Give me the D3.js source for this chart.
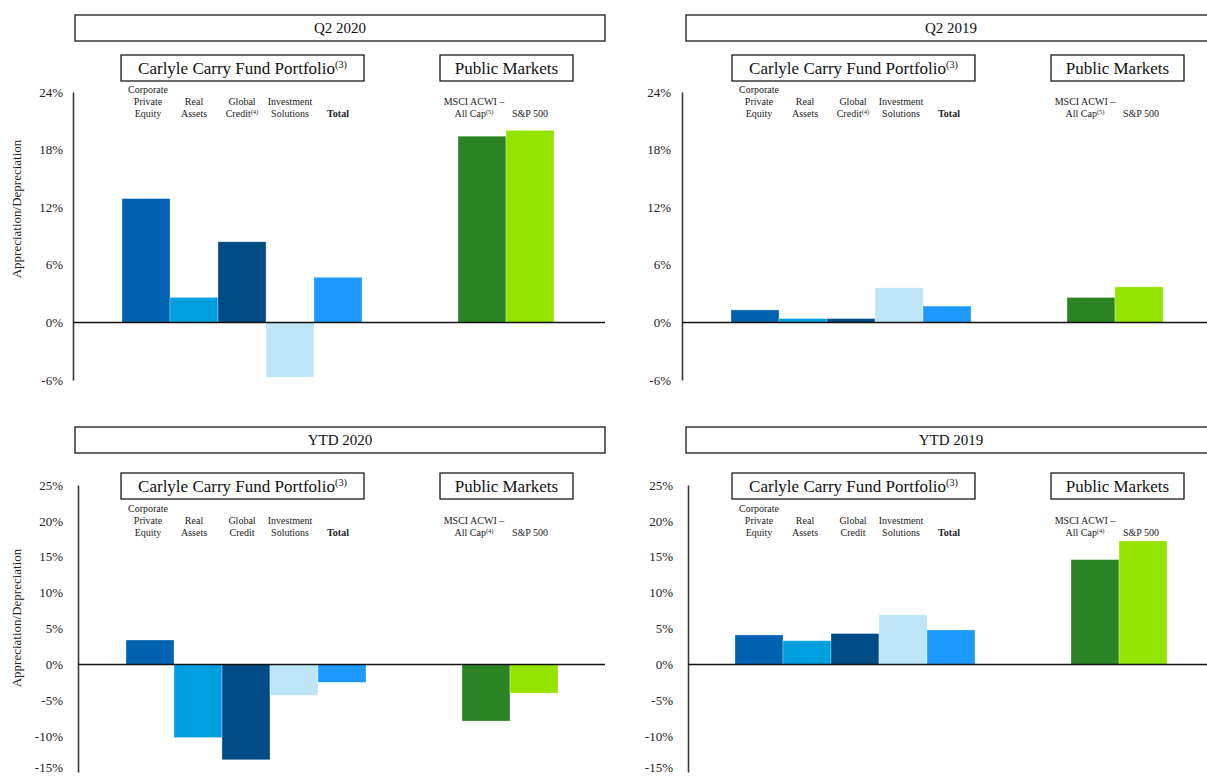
<!DOCTYPE html>
<html>
<head>
<meta charset="utf-8">
<script src="https://cdn.jsdelivr.net/npm/d3@7"></script>
<style>
  body { margin: 0; background: #fff; }
  svg { font-family: "Liberation Serif", "Times New Roman", serif; }
</style>
</head>
<body>
<svg id="chart" width="1207" height="776"></svg>
<script>
// slots along the x axis: five fund bars, two empty slots, two index bars
const slotKeys = ["cpe", "ra", "gc", "is", "total", "gapA", "gapB", "msci", "sp"];
const barKeys = ["cpe", "ra", "gc", "is", "total", "msci", "sp"];
const barColors = ["#0062B0", "#009FE0", "#004B86", "#BEE5F7", "#1E99FF", "#2C8323", "#95E400"];
const labelLines = [
  ["Corporate", "Private", "Equity"],
  ["Real", "Assets"],
  ["Global", "Credit"],
  ["Investment", "Solutions"],
  ["Total"],
  ["MSCI ACWI \u2013", "All Cap"],
  ["S&P 500"]
];

const panelTitles = ["Q2 2020", "Q2 2019", "YTD 2020", "YTD 2019"];
const q2_2020 = [12.9, 2.6, 8.4, -5.7, 4.7, 19.4, 20.0];
const q2_2019 = [1.3, 0.4, 0.4, 3.6, 1.7, 2.6, 3.7];
const ytd_2020 = [3.4, -10.2, -13.3, -4.3, -2.5, -7.9, -4.0];
const ytd_2019 = [4.1, 3.3, 4.3, 6.9, 4.8, 14.6, 17.2];
const q2Ticks = [-6, 0, 6, 12, 18, 24];
const ytdTicks = [-15, -10, -5, 0, 5, 10, 15, 20, 25];
const q2Notes = { gc: "(4)", msci: "(5)" };
const ytdNotes = { msci: "(4)" };

const svg = d3.select("#chart");

const panels = [
  { title: panelTitles[0], values: q2_2020, ticks: q2Ticks, notes: q2Notes, axisX: 73, bandX: 122, boxX: 75, right: 605, top: 15, subY: 55, yr: [380, 92], labelBase: 117, tickPad: 10, yTitle: 209 },
  { title: panelTitles[1], values: q2_2019, ticks: q2Ticks, notes: q2Notes, axisX: 682, bandX: 731, boxX: 686, right: 1207, top: 15, subY: 55, yr: [380, 92], labelBase: 117, tickPad: 11 },
  { title: panelTitles[2], values: ytd_2020, ticks: ytdTicks, notes: ytdNotes, axisX: 78, bandX: 126, boxX: 75, right: 605, top: 427, subY: 473, yr: [772, 485], labelBase: 536, tickPad: 15, yTitle: 618 },
  { title: panelTitles[3], values: ytd_2019, ticks: ytdTicks, notes: ytdNotes, axisX: 688, bandX: 735, boxX: 686, right: 1207, top: 427, subY: 473, yr: [772, 485], labelBase: 536, tickPad: 15 }
];

function boxedText(g, x, y, w, h, label, size, note) {
  g.append("rect")
    .attr("x", x).attr("y", y).attr("width", w).attr("height", h)
    .attr("fill", "#fff").attr("stroke", "#1a1a1a").attr("stroke-width", 1.3);
  const t = g.append("text")
    .attr("x", x + w / 2).attr("y", y + h / 2 + size * 0.34)
    .attr("text-anchor", "middle")
    .attr("font-size", size).attr("fill", "#111")
    .text(label);
  if (note) {
    t.append("tspan").attr("font-size", size * 0.6).attr("dy", -size * 0.35).text(note);
  }
}

panels.forEach(p => {
  const g = svg.append("g");

  const y = d3.scaleLinear()
    .domain(d3.extent(p.ticks))
    .range(p.yr);
  const x = d3.scaleBand()
    .domain(slotKeys)
    .range([p.bandX, p.bandX + 432])
    .padding(0);
  // the text columns follow the header boxes, not the bars
  const xl = x.copy().range([p.boxX + 47, p.boxX + 47 + 432]);

  // header boxes
  boxedText(g, p.boxX, p.top, 530, 26, p.title, 15);
  boxedText(g, p.boxX + 46, p.subY, 243, 26, "Carlyle Carry Fund Portfolio", 17, "(3)");
  boxedText(g, p.boxX + 365, p.subY, 133, 26, "Public Markets", 17);

  // bars
  g.selectAll("rect.bar")
    .data(p.values)
    .join("rect")
    .attr("class", "bar")
    .attr("x", (d, i) => x(barKeys[i]))
    .attr("width", x.bandwidth())
    .attr("y", d => y(Math.max(0, d)))
    .attr("height", d => Math.abs(y(d) - y(0)))
    .attr("fill", (d, i) => barColors[i])
    .attr("stroke", "#ffffff")
    .attr("stroke-opacity", 0.5)
    .attr("stroke-width", 0.6);

  // category labels, bottom aligned
  barKeys.forEach((k, i) => {
    const lines = labelLines[i];
    const cx = xl(k) + xl.bandwidth() / 2 + (k === "msci" ? -8 : (k === "cpe" ? 2 : 0));
    lines.forEach((line, j) => {
      const t = g.append("text")
        .attr("x", cx)
        .attr("y", p.labelBase - (lines.length - 1 - j) * 12)
        .attr("text-anchor", "middle")
        .attr("font-size", 10)
        .attr("font-weight", k === "total" ? "bold" : null)
        .attr("fill", "#222")
        .text(line);
      if (j === lines.length - 1 && p.notes[k]) {
        t.append("tspan").attr("font-size", 6.5).attr("dy", -3).text(p.notes[k]);
      }
    });
  });

  // y axis
  const axis = g.append("g")
    .attr("transform", `translate(${p.axisX},0)`)
    .call(d3.axisLeft(y)
      .tickValues(p.ticks)
      .tickSize(0)
      .tickPadding(p.tickPad)
      .tickFormat(d => `${d}%`));
  axis.select(".domain").attr("stroke", "#3a3a3a").attr("stroke-width", 1.6);
  axis.selectAll("text")
    .attr("font-family", "Liberation Serif, Times New Roman, serif")
    .attr("font-size", 13)
    .attr("fill", "#222");
  // lowest label sits on the page edge; lift it just enough to stay whole
  axis.selectAll(".tick")
    .filter(d => d === -15)
    .select("text")
    .attr("dy", "-0.05em");

  // zero line
  g.append("line")
    .attr("x1", p.axisX).attr("x2", p.right)
    .attr("y1", y(0)).attr("y2", y(0))
    .attr("stroke", "#111").attr("stroke-width", 1.5);

  if (p.yTitle) {
    g.append("text")
      .attr("transform", `translate(21,${p.yTitle}) rotate(-90)`)
      .attr("text-anchor", "middle")
      .attr("font-size", 13)
      .attr("fill", "#222")
      .text("Appreciation/Depreciation");
  }
});
</script>
</body>
</html>
